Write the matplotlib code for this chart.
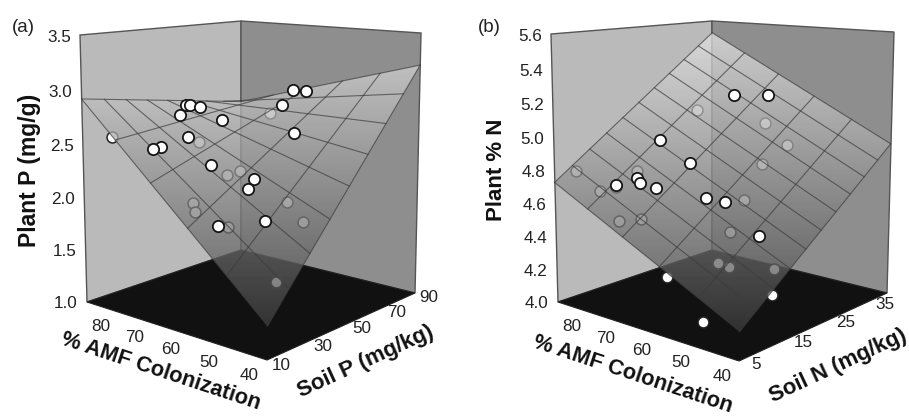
import numpy as np
from matplotlib import pyplot as plt
from matplotlib.patches import Polygon

plt.rcParams['font.family'] = ['Liberation Sans', 'DejaVu Sans']

# panel a, plant P against % AMF and soil P
amf_a_front = [79.9,79.2,77.6,77.2,71.0,71.4,72.1,72.5,63.6,55.4,55.0,48.5,54.6,64.2,66.3,62.5,55.7]
soil_a_front = [42.5,43.7,45.9,35.4,45.4,29.5,18.1,15.3,26.8,32.7,29.0,25.1,14.2,64.2,74.6,73.8,53.6]
plant_a_front = [2.806,2.799,2.783,2.741,2.695,2.594,2.539,2.530,2.392,2.291,2.226,2.006,1.983,2.805,2.909,2.911,2.617]
amf_a_behind = [84.3,76.5,65.4,64.2,65.1,63.5,57.3,51.3,46.2,44.2,76.4]
soil_a_behind = [14.7,43.3,37.6,41.9,21.1,19.2,23.6,41.5,39.2,22.1,81.5]
plant_a_behind = [2.583,2.459,2.243,2.268,2.070,2.006,1.900,2.065,1.941,1.538,2.609]
# fitted surface at (40,low) (40,high) (90,low) (90,high)
surface_a = [1.29,3.2,2.92,2.64]

# panel b, plant % N against % AMF and soil N
amf_b_front = [72.1,66.2,77.2,68.4,74.7,73.4,70.1,77.0,60.4,56.9,47.0]
soil_b_front = [30.8,34.0,17.9,17.7,11.3,11.0,11.8,8.6,14.9,16.0,15.0]
plant_b_front = [5.184,5.185,4.953,4.847,4.777,4.754,4.735,4.742,4.694,4.676,4.540]
amf_b_behind = [80.5,66.3,59.1,60.4,90.7,83.2,80.4,81.3,58.1,75.3,71.9,55.9,53.3,51.3,44.2,59.4,41.3,48.2]
soil_b_behind = [28.7,33.3,32.2,27.4,9.7,9.6,15.3,11.5,21.2,7.9,10.0,16.2,11.7,12.2,15.7,6.1,12.7,4.5]
plant_b_behind = [5.075,5.010,4.902,4.810,4.764,4.676,4.771,4.695,4.645,4.547,4.554,4.509,4.381,4.369,4.365,4.325,4.264,4.162]
surface_b = [4.16,4.93,4.73,5.52]

amf_ticks = [40,50,60,70,80]
soil_a_ticks = [10,30,50,70,90]
soil_b_ticks = [5,15,25,35]
plant_a_ticks = ['1.0','1.5','2.0','2.5','3.0','3.5']
plant_b_ticks = ['4.0','4.2','4.4','4.6','4.8','5.0','5.2','5.4','5.6']

# box corners as (amf, soil, plant) fractions, then where they land on the page
cube = [(0,0,0),(1,0,0),(0,1,0),(1,1,0),(1,0,1),(1,1,1),(0,1,1)]
page_a = [(267,360),(87,302),(415,293),(241,250),(80,35),(241,21),(421,33)]
page_b = [(739,361),(558,302),(887,293),(712,250),(551,34),(712,21),(894,32)]


def fit_camera(page):
    rows = []
    for (u,v,w),(x,y) in zip(cube,page):
        rows.append([u,v,w,1,0,0,0,0,-x*u,-x*v,-x*w,-x])
        rows.append([0,0,0,0,u,v,w,1,-y*u,-y*v,-y*w,-y])
    return np.linalg.svd(np.array(rows,float))[2][-1].reshape(3,4)


def project(P,u,v,w):
    u,v,w = np.asarray(u,float),np.asarray(v,float),np.asarray(w,float)
    d = P[2,0]*u+P[2,1]*v+P[2,2]*w+P[2,3]
    return (P[0,0]*u+P[0,1]*v+P[0,2]*w+P[0,3])/d,(P[1,0]*u+P[1,1]*v+P[1,2]*w+P[1,3])/d


def surface_at(surface,u,v):
    return (1-u)*(1-v)*surface[0]+(1-u)*v*surface[1]+u*(1-v)*surface[2]+u*v*surface[3]


def panel(ax,page,surface,soil_lim,plant_lim,front,behind,soil_ticks,plant_ticks,soil_cells,soil_off):
    P = fit_camera(page)
    to_u = lambda a: (np.asarray(a,float)-40)/50
    to_v = lambda s: (np.asarray(s,float)-soil_lim[0])/(soil_lim[1]-soil_lim[0])
    to_w = lambda z: (np.asarray(z,float)-plant_lim[0])/(plant_lim[1]-plant_lim[0])
    c = page
    ax.fill(*zip(c[1],c[4],c[5],c[3]),fc='#bababa',ec='#555555',lw=1,zorder=1)
    ax.fill(*zip(c[3],c[5],c[6],c[2]),fc='#8e8e8e',ec='#555555',lw=1,zorder=1)
    ax.fill(*zip(c[0],c[1],c[3],c[2]),fc='#111111',ec='#222222',lw=0.8,zorder=2)

    ax.scatter(*project(P,to_u(behind[0]),to_v(behind[1]),to_w(behind[2])),s=62,fc='white',ec='#222222',lw=1.1,zorder=3)

    # surface, shaded lighter towards the top of the page
    cu = np.array([0,0,1,1.0])
    cv = np.array([0,1,1,0.0])
    xs,ys = project(P,cu,cv,to_w(surface_at(surface,cu,cv)))
    outline = Polygon(np.column_stack([xs,ys]),closed=True,transform=ax.transData,fc='none',ec='none')
    ax.add_patch(outline)
    shade = np.clip(0.92-(np.arange(0,416)+0.5-20)/310*0.68,0,1).reshape(-1,1)
    ax.imshow(shade,extent=(xs.min()-1,xs.max()+1,416,0),cmap='gray',vmin=0,vmax=1,aspect='auto',
              alpha=0.74,zorder=4,clip_path=outline)

    for i in range(6):
        u = np.full(2,i/5)
        v = np.array([0,1.0])
        ax.plot(*project(P,u,v,to_w(surface_at(surface,u,v))),color='#3c3c3c',lw=0.8,alpha=0.7,zorder=5)
    for i in range(soil_cells+1):
        u = np.array([0,1.0])
        v = np.full(2,i/soil_cells)
        ax.plot(*project(P,u,v,to_w(surface_at(surface,u,v))),color='#3c3c3c',lw=0.8,alpha=0.7,zorder=5)

    ax.scatter(*project(P,to_u(front[0]),to_v(front[1]),to_w(front[2])),s=66,fc='white',ec='#151515',lw=1.3,zorder=6)

    for lab in plant_ticks:
        x,y = project(P,1,0,to_w(float(lab)))
        ax.text(x-9,y+2,lab,ha='right',va='center',fontsize=12.3,color='#222222')
    for a in amf_ticks:
        x,y = project(P,to_u(a),0,0)
        ax.text(x-18,y+15,str(a),ha='center',va='center',fontsize=12.3,color='#222222')
    for s in soil_ticks:
        x,y = project(P,0,to_v(s),0)
        ax.text(x+soil_off[0],y+soil_off[1],str(s),ha='center',va='center',fontsize=12.3,color='#222222')


fig = plt.figure(figsize=(9.09,4.16),dpi=100)
ax = fig.add_axes([0,0,1,1])

panel(ax,page_a,surface_a,(10,90),(1.0,3.5),
      (amf_a_front,soil_a_front,plant_a_front),(amf_a_behind,soil_a_behind,plant_a_behind),
      soil_a_ticks,plant_a_ticks,8,(14,5))
panel(ax,page_b,surface_b,(5,40),(4.0,5.6),
      (amf_b_front,soil_b_front,plant_b_front),(amf_b_behind,soil_b_behind,plant_b_behind),
      soil_b_ticks,plant_b_ticks,10,(16,3))

ax.text(23,27,'(a)',ha='center',va='center',fontsize=13.5,color='#222222')
ax.text(489,27,'(b)',ha='center',va='center',fontsize=13.5,color='#222222')
ax.text(30,170,'Plant P (mg/g)',rotation=90,ha='center',va='center',fontsize=16.5,fontweight='bold',color='#111111')
ax.text(497,170,'Plant % N',rotation=90,ha='center',va='center',fontsize=16,fontweight='bold',color='#111111')
ax.text(161,372,'% AMF Colonization',rotation=-18.3,ha='center',va='center',rotation_mode='anchor',fontsize=15.7,fontweight='bold',color='#111111')
ax.text(632.5,375,'% AMF Colonization',rotation=-18.3,ha='center',va='center',rotation_mode='anchor',fontsize=15.7,fontweight='bold',color='#111111')
ax.text(366,362,'Soil P (mg/kg)',rotation=24.6,ha='center',va='center',rotation_mode='anchor',fontsize=16,fontweight='bold',color='#111111')
ax.text(838,366,'Soil N (mg/kg)',rotation=25,ha='center',va='center',rotation_mode='anchor',fontsize=16,fontweight='bold',color='#111111')

ax.set_xlim(0,909)
ax.set_ylim(416,0)
ax.axis('off')
fig.savefig('out.png',dpi=100)
